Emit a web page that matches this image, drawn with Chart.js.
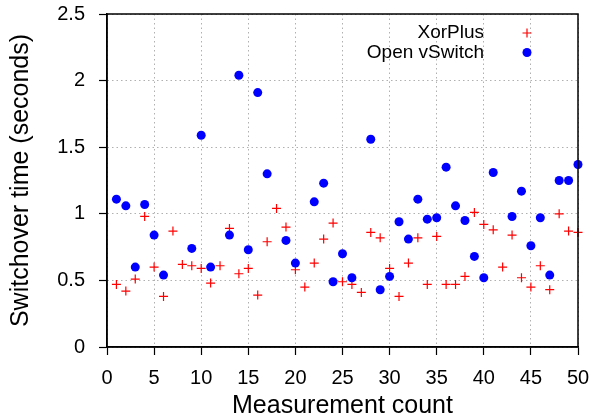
<!DOCTYPE html>
<html>
<head>
<meta charset="utf-8">
<script src="https://cdn.jsdelivr.net/npm/chart.js@4/dist/chart.umd.min.js"></script>
<style>
  html, body { margin: 0; padding: 0; background: #fff; }
  #wrap { width: 593px; height: 419px; }
</style>
</head>
<body>
<div id="wrap"><canvas id="chart" width="593" height="419"></canvas></div>
<script>
// measurement index on the x axis
const counts = [1, 2, 3, 4, 5, 6, 7, 8, 9, 10, 11, 12, 13, 14, 15, 16, 17, 18, 19, 20,
  21, 22, 23, 24, 25, 26, 27, 28, 29, 30, 31, 32, 33, 34, 35, 36, 37, 38, 39, 40,
  41, 42, 43, 44, 45, 46, 47, 48, 49, 50];

// switchover time in seconds
const xorPlus = [0.47, 0.42, 0.51, 0.98, 0.60, 0.38, 0.87, 0.62, 0.61, 0.59,
  0.48, 0.61, 0.89, 0.55, 0.59, 0.39, 0.79, 1.04, 0.90, 0.58,
  0.45, 0.63, 0.81, 0.93, 0.49, 0.47, 0.41, 0.86, 0.82, 0.59,
  0.38, 0.63, 0.82, 0.47, 0.83, 0.47, 0.47, 0.53, 1.01, 0.92,
  0.88, 0.60, 0.84, 0.52, 0.45, 0.61, 0.43, 1.00, 0.87, 0.86];

const openVSwitch = [1.11, 1.06, 0.60, 1.07, 0.84, 0.54, null, null, 0.74, 1.59,
  0.60, null, 0.84, 2.04, 0.73, 1.91, 1.30, null, 0.80, 0.63,
  null, 1.09, 1.23, 0.49, 0.70, 0.52, null, 1.56, 0.43, 0.53,
  0.94, 0.81, 1.11, 0.96, 0.97, 1.35, 1.06, 0.95, 0.68, 0.52,
  1.31, null, 0.98, 1.17, 0.76, 0.97, 0.54, 1.25, 1.25, 1.37];

const xTicks = [0, 5, 10, 15, 20, 25, 30, 35, 40, 45, 50];
const yTicks = [0, 0.5, 1, 1.5, 2, 2.5];

const FONT = "'Liberation Sans', Arial, Helvetica, sans-serif";

function points(ys) {
  return counts.map((x, i) => ({ x: x, y: ys[i] }));
}

function noPad(s) {
  s.paddingLeft = 0;
  s.paddingRight = 0;
  s.paddingTop = 0;
  s.paddingBottom = 0;
}

// gnuplot-style box + key in the top right corner
const frame = {
  id: 'frame',
  afterDraw(chart) {
    const { ctx, chartArea: a } = chart;
    ctx.save();
    ctx.strokeStyle = '#000';
    ctx.lineWidth = 1.5;
    ctx.strokeRect(a.left, a.top, a.right - a.left, a.bottom - a.top);

    ctx.font = '19px ' + FONT;
    ctx.textAlign = 'right';
    ctx.textBaseline = 'middle';
    const rows = [33, 52.5];
    const mx = 527;
    chart.data.datasets.forEach((ds, i) => {
      const y = rows[i];
      const r = ds.pointRadius;
      ctx.fillStyle = '#000';
      ctx.fillText(ds.label, 484, y);
      ctx.strokeStyle = ds.borderColor;
      ctx.fillStyle = ds.backgroundColor;
      ctx.lineWidth = ds.borderWidth;
      ctx.beginPath();
      if (ds.pointStyle === 'cross') {
        ctx.moveTo(mx - r, y); ctx.lineTo(mx + r, y);
        ctx.moveTo(mx, y - r); ctx.lineTo(mx, y + r);
        ctx.stroke();
      } else {
        ctx.arc(mx, y, r, 0, Math.PI * 2);
        ctx.fill();
      }
    });
    ctx.restore();
  }
};

new Chart(document.getElementById('chart'), {
  type: 'scatter',
  data: {
    datasets: [{
      label: 'XorPlus',
      data: points(xorPlus),
      pointStyle: 'cross',
      pointRadius: 4.5,
      borderWidth: 1.2,
      borderColor: '#ff0000',
      backgroundColor: '#ff0000',
      clip: false,
      order: 1
    }, {
      label: 'Open vSwitch',
      data: points(openVSwitch),
      pointStyle: 'circle',
      pointRadius: 4.5,
      borderWidth: 0,
      borderColor: '#0000ff',
      backgroundColor: '#0000ff',
      clip: false,
      order: 0
    }]
  },
  options: {
    responsive: false,
    animation: false,
    events: [],
    layout: { padding: { top: 14, right: 15, left: 0, bottom: 0 } },
    plugins: { legend: { display: false }, tooltip: { enabled: false } },
    scales: {
      x: {
        type: 'linear',
        min: 0,
        max: 50,
        afterBuildTicks: s => { s.ticks = xTicks.map(v => ({ value: v })); },
        afterFit: s => { s.height = 72; noPad(s); },
        ticks: {
          color: '#000',
          padding: 11,
          maxRotation: 0,
          font: { family: FONT, size: 20 },
          callback: v => String(v)
        },
        grid: {
          color: '#b0b0b0',
          lineWidth: 1,
          tickLength: 8,
          tickColor: '#000',
          tickWidth: 1.2,
          tickBorderDash: []
        },
        border: { color: '#000', width: 1.5, dash: [1.5, 3] },
        title: {
          display: true,
          text: 'Measurement count',
          color: '#000',
          font: { family: FONT, size: 25, lineHeight: 1 },
          padding: { top: 0, bottom: 0 }
        }
      },
      y: {
        type: 'linear',
        min: 0,
        max: 2.5,
        afterBuildTicks: s => { s.ticks = yTicks.map(v => ({ value: v })); },
        afterFit: s => { s.width = 107; noPad(s); },
        ticks: {
          color: '#000',
          padding: 14,
          font: { family: FONT, size: 20 },
          callback: v => String(v)
        },
        grid: {
          color: '#b0b0b0',
          lineWidth: 1,
          tickLength: 8,
          tickColor: '#000',
          tickWidth: 1.2,
          tickBorderDash: []
        },
        border: { color: '#000', width: 1.5, dash: [1.5, 3] },
        title: {
          display: true,
          text: 'Switchover time (seconds)',
          color: '#000',
          font: { family: FONT, size: 25, lineHeight: 1 },
          padding: { top: 9, bottom: 0 }
        }
      }
    }
  },
  plugins: [frame]
});
</script>
</body>
</html>
